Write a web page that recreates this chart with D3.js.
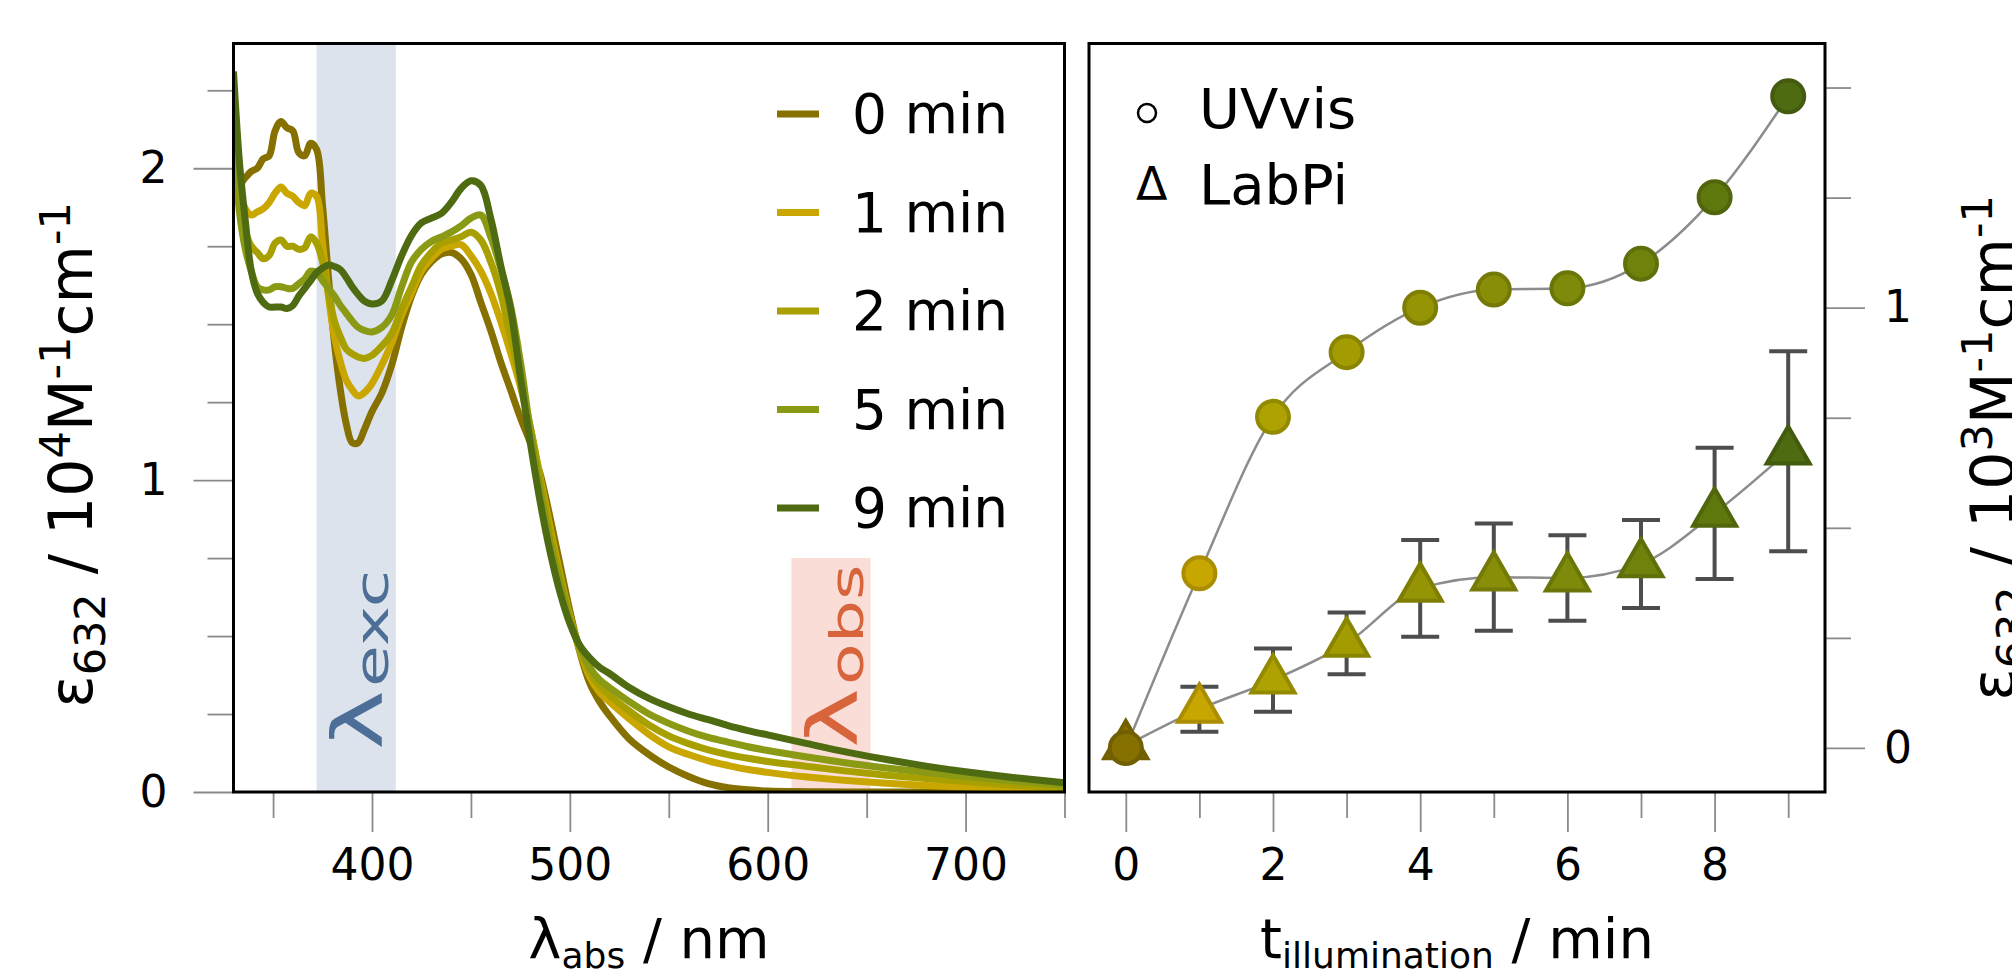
<!DOCTYPE html>
<html>
<head>
<meta charset="utf-8">
<script src="https://cdn.jsdelivr.net/npm/d3@7"></script>
<style>
    html, body { margin: 0; padding: 0; background: #fff; overflow: hidden; }
    svg { display: block; font-family: "DejaVu Sans", sans-serif; }
</style>
</head>
<body>
<svg id="chart" width="2012" height="970"></svg>
<script>
// spectra: wavelength grid (nm) and extinction (10^4 M^-1 cm^-1) per illumination time
const wavelengths = [330, 333, 336, 339, 342, 345, 348, 351, 354, 357, 360, 363, 366, 369, 372,
    375, 378, 381, 384, 387, 390, 393, 396,
    400, 405, 410, 415, 420, 425, 430, 435, 440, 445, 450, 455, 460, 465, 470, 475, 480, 485, 490, 495, 500, 505, 510, 515, 520,
    530, 540, 550, 560, 570, 580, 590, 600,
    620, 640, 660, 680, 700, 725, 750];

const eps0min = [1.98, 1.95, 1.97, 1.99, 2.00, 2.03, 2.04, 2.12, 2.15, 2.13, 2.12, 2.05, 2.04, 2.08, 2.06,
    1.88, 1.65, 1.44, 1.29, 1.18, 1.12, 1.12, 1.16,
    1.22, 1.28, 1.37, 1.49, 1.59, 1.66, 1.70, 1.725, 1.73, 1.71, 1.66, 1.57, 1.48, 1.38, 1.29, 1.20, 1.12, 1.02, 0.88, 0.73, 0.58, 0.45, 0.35, 0.29, 0.245,
    0.17, 0.12, 0.08, 0.05, 0.027, 0.014, 0.007, 0.003,
    0.001, 0, 0, 0, 0, 0, 0];

const eps1min = [1.97, 1.92, 1.87, 1.85, 1.86, 1.87, 1.89, 1.92, 1.94, 1.92, 1.91, 1.89, 1.88, 1.92, 1.91,
    1.76, 1.59, 1.46, 1.38, 1.32, 1.29, 1.27, 1.28,
    1.31, 1.37, 1.44, 1.53, 1.60, 1.67, 1.71, 1.74, 1.75, 1.755, 1.72, 1.67, 1.60, 1.51, 1.41, 1.30, 1.17, 1.01, 0.85, 0.70, 0.565, 0.455, 0.37, 0.32, 0.29,
    0.235, 0.185, 0.145, 0.12, 0.10, 0.085, 0.072, 0.063,
    0.048, 0.037, 0.028, 0.021, 0.016, 0.011, 0.008];

const eps2min = [2.00, 1.90, 1.80, 1.75, 1.73, 1.71, 1.72, 1.76, 1.77, 1.75, 1.75, 1.74, 1.745, 1.78, 1.76,
    1.70, 1.60, 1.51, 1.46, 1.42, 1.405, 1.395, 1.39,
    1.40, 1.43, 1.47, 1.55, 1.62, 1.69, 1.73, 1.76, 1.77, 1.78, 1.795, 1.77, 1.70, 1.60, 1.46, 1.32, 1.17, 1.00, 0.83, 0.69, 0.56, 0.46, 0.385, 0.34, 0.31,
    0.26, 0.215, 0.18, 0.155, 0.135, 0.12, 0.108, 0.098,
    0.082, 0.067, 0.054, 0.043, 0.034, 0.022, 0.013];

const eps5min = [2.10, 1.86, 1.74, 1.67, 1.62, 1.61, 1.61, 1.62, 1.62, 1.615, 1.615, 1.63, 1.645, 1.67, 1.665,
    1.64, 1.615, 1.59, 1.56, 1.535, 1.51, 1.49, 1.48,
    1.475, 1.49, 1.53, 1.62, 1.70, 1.74, 1.765, 1.78, 1.795, 1.815, 1.84, 1.85, 1.78, 1.68, 1.56, 1.38, 1.16, 0.97, 0.80, 0.67, 0.55, 0.465, 0.40, 0.36, 0.335,
    0.29, 0.25, 0.22, 0.195, 0.175, 0.16, 0.145, 0.133,
    0.112, 0.093, 0.077, 0.063, 0.05, 0.035, 0.022];

const eps9min = [2.31, 2.02, 1.83, 1.67, 1.60, 1.57, 1.555, 1.555, 1.555, 1.55, 1.56, 1.59, 1.615, 1.64, 1.665,
    1.68, 1.69, 1.685, 1.675, 1.65, 1.62, 1.595, 1.575,
    1.565, 1.575, 1.64, 1.72, 1.785, 1.825, 1.84, 1.855, 1.89, 1.935, 1.96, 1.945, 1.84, 1.69, 1.55, 1.33, 1.12, 0.93, 0.77, 0.64, 0.54, 0.47, 0.43, 0.40, 0.38,
    0.335, 0.30, 0.273, 0.25, 0.232, 0.213, 0.197, 0.183,
    0.155, 0.128, 0.104, 0.083, 0.065, 0.046, 0.03];

const seriesLabels = ["0 min", "1 min", "2 min", "5 min", "9 min"];
const seriesColors = ["#857000", "#c9a600", "#a8a000", "#8a9a14", "#4f6b11"];
const seriesValues = [eps0min, eps1min, eps2min, eps5min, eps9min];

// shaded wavelength windows (nm)
const excBand = [372, 412];
const obsBand = [612, 652];
const obsBandTop = 0.75;

// kinetics at 632 nm (10^3 M^-1 cm^-1)
const tIllum = [0, 1, 2, 3, 4, 5, 6, 7, 8, 9];
const uvvis = [0.0, 0.397, 0.752, 0.899, 1.0, 1.041, 1.044, 1.10, 1.251, 1.48];
const labpi = [0.005, 0.088, 0.154, 0.2375, 0.3625, 0.388, 0.386, 0.418, 0.533, 0.674];
const labpiErr = [0, 0.051, 0.072, 0.070, 0.110, 0.122, 0.097, 0.100, 0.149, 0.227];
const timeColors = ["#857000", "#c8a600", "#ada200", "#a29c00", "#949404", "#888e08", "#7e8a0a", "#70820c", "#5f780e", "#4f6b11"];

// ticks
const xMajorL = [400, 500, 600, 700];
const xMinorL = [350, 450, 550, 650, 750];
const yMajorL = [0, 1, 2];
const yMinorL = [0.25, 0.5, 0.75, 1.25, 1.5, 1.75, 2.25];
const xMajorR = [0, 2, 4, 6, 8];
const xMinorR = [1, 3, 5, 7, 9];
const yMajorR = [0, 1];
const yMinorR = [0.25, 0.5, 0.75, 1.25, 1.5];

const FONT = "DejaVu Sans";
const svg = d3.select("#chart");

const left = { x0: 233.5, x1: 1064.5, y0: 43.5, y1: 792 };
const right = { x0: 1089, x1: 1825, y0: 43.5, y1: 792 };

const xL = d3.scaleLinear().domain([330, 750]).range([left.x0, left.x1]);
const yL = d3.scaleLinear().domain([0, 2.4]).range([left.y1, left.y0]);
const xR = d3.scaleLinear().domain([-0.5, 9.5]).range([right.x0, right.x1]);
const yR = d3.scaleLinear().domain([-0.1, 1.6]).range([right.y1, right.y0]);

function styleAxis(g) {
    g.attr("font-family", FONT).attr("font-size", 44);
    g.select(".domain").remove();
    g.selectAll(".tick line").attr("stroke", "#8a8a8a").attr("stroke-width", 1.8);
    g.selectAll(".tick text").attr("fill", "#000");
}

function addAxis(axis, tx, ty) {
    svg.append("g")
        .attr("transform", `translate(${tx},${ty})`)
        .call(axis)
        .call(styleAxis);
}

// ---------- left panel ----------
svg.append("defs").append("clipPath").attr("id", "clipL")
    .append("rect")
    .attr("x", left.x0).attr("y", left.y0)
    .attr("width", left.x1 - left.x0).attr("height", left.y1 - left.y0);

const plotL = svg.append("g").attr("clip-path", "url(#clipL)");

plotL.append("rect")
    .attr("x", xL(excBand[0]))
    .attr("y", left.y0)
    .attr("width", xL(excBand[1]) - xL(excBand[0]))
    .attr("height", left.y1 - left.y0)
    .attr("fill", "#dce3ec");

plotL.append("rect")
    .attr("x", xL(obsBand[0]))
    .attr("y", yL(obsBandTop))
    .attr("width", xL(obsBand[1]) - xL(obsBand[0]))
    .attr("height", yL(0) - yL(obsBandTop))
    .attr("fill", "#f9ddd6");

const spectrumLine = d3.line()
    .x(d => xL(d[0]))
    .y(d => yL(d[1]))
    .curve(d3.curveCatmullRom.alpha(0.5));

seriesValues.forEach((vals, i) => {
    plotL.append("path")
        .datum(wavelengths.map((w, j) => [w, vals[j]]))
        .attr("d", spectrumLine)
        .attr("fill", "none")
        .attr("stroke", seriesColors[i])
        .attr("stroke-width", 7)
        .attr("stroke-linejoin", "round");
});

// band labels (stretched along the text direction like the original)
function bandLabel(x, y, sub, color) {
    const t = svg.append("text")
        .attr("transform", `translate(${x},${y}) rotate(-90) scale(1.45,1)`)
        .attr("fill", color)
        .attr("font-family", FONT);
    t.append("tspan").attr("font-size", 70).text("λ");
    t.append("tspan").attr("font-size", 47).attr("dy", 6).attr("dx", 2).text(sub);
}
bandLabel(382, 750, "exc", "#4d6e96");
bandLabel(857, 748, "obs", "#d8643c");

// legend
const legend = svg.append("g").attr("font-family", FONT).attr("font-size", 55);
seriesLabels.forEach((lab, i) => {
    const ly = 114 + i * 98.5;
    legend.append("line")
        .attr("x1", 777).attr("x2", 819)
        .attr("y1", ly).attr("y2", ly)
        .attr("stroke", seriesColors[i])
        .attr("stroke-width", 7);
    legend.append("text")
        .attr("x", 852).attr("y", ly + 19)
        .attr("fill", "#000")
        .text(lab);
});

// axes
addAxis(d3.axisBottom(xL).tickValues(xMajorL).tickSize(40).tickPadding(17).tickFormat(d3.format("d")), 0, left.y1);
addAxis(d3.axisBottom(xL).tickValues(xMinorL).tickSize(26).tickFormat(""), 0, left.y1);
addAxis(d3.axisLeft(yL).tickValues(yMajorL).tickSize(40).tickPadding(26).tickFormat(d3.format("d")), left.x0, 0);
addAxis(d3.axisLeft(yL).tickValues(yMinorL).tickSize(26).tickFormat(""), left.x0, 0);

svg.append("rect")
    .attr("x", left.x0).attr("y", left.y0)
    .attr("width", left.x1 - left.x0).attr("height", left.y1 - left.y0)
    .attr("fill", "none").attr("stroke", "#000").attr("stroke-width", 3);

// ---------- right panel ----------
const plotR = svg.append("g");

const kinLine = d3.line()
    .x((d, i) => xR(tIllum[i]))
    .y(d => yR(d))
    .curve(d3.curveMonotoneX);

[uvvis, labpi].forEach(vals => {
    plotR.append("path")
        .datum(vals)
        .attr("d", kinLine)
        .attr("fill", "none")
        .attr("stroke", "#8c8c8c")
        .attr("stroke-width", 2.5);
});

// error bars
const errG = plotR.append("g").attr("stroke", "#4d4d4d").attr("stroke-width", 4);
tIllum.forEach((t, i) => {
    if (labpiErr[i] <= 0) return;
    const cx = xR(t);
    const yTop = yR(labpi[i] + labpiErr[i]);
    const yBot = yR(labpi[i] - labpiErr[i]);
    errG.append("line").attr("x1", cx).attr("x2", cx).attr("y1", yTop).attr("y2", yBot);
    errG.append("line").attr("x1", cx - 19).attr("x2", cx + 19).attr("y1", yTop).attr("y2", yTop);
    errG.append("line").attr("x1", cx - 19).attr("x2", cx + 19).attr("y1", yBot).attr("y2", yBot);
});

const tri = d3.symbol().type(d3.symbolTriangle).size(800);
plotR.selectAll(".tri")
    .data(tIllum)
    .enter()
    .append("path")
    .attr("class", "tri")
    .attr("d", tri)
    .attr("transform", (t, i) => `translate(${xR(t)},${yR(labpi[i])})`)
    .attr("fill", (t, i) => timeColors[i])
    .attr("stroke", (t, i) => d3.color(timeColors[i]).darker(0.45))
    .attr("stroke-width", 4)
    .attr("stroke-linejoin", "miter");

plotR.selectAll(".dot")
    .data(tIllum)
    .enter()
    .append("circle")
    .attr("class", "dot")
    .attr("cx", t => xR(t))
    .attr("cy", (t, i) => yR(uvvis[i]))
    .attr("r", 16)
    .attr("fill", (t, i) => timeColors[i])
    .attr("stroke", (t, i) => d3.color(timeColors[i]).darker(0.45))
    .attr("stroke-width", 4);

// legend
const legR = svg.append("g").attr("font-family", FONT).attr("fill", "#000");
legR.append("circle").attr("cx", 1147).attr("cy", 113).attr("r", 9)
    .attr("fill", "none").attr("stroke", "#000").attr("stroke-width", 2.5);
legR.append("text").attr("x", 1199).attr("y", 128).attr("font-size", 56).text("UVvis");
legR.append("text").attr("x", 1136).attr("y", 200).attr("font-size", 46).text("Δ");
legR.append("text").attr("x", 1199).attr("y", 204).attr("font-size", 56).text("LabPi");

addAxis(d3.axisBottom(xR).tickValues(xMajorR).tickSize(40).tickPadding(17).tickFormat(d3.format("d")), 0, right.y1);
addAxis(d3.axisBottom(xR).tickValues(xMinorR).tickSize(26).tickFormat(""), 0, right.y1);
addAxis(d3.axisRight(yR).tickValues(yMajorR).tickSize(40).tickPadding(19).tickFormat(d3.format("d")), right.x1, 0);
addAxis(d3.axisRight(yR).tickValues(yMinorR).tickSize(26).tickFormat(""), right.x1, 0);

svg.append("rect")
    .attr("x", right.x0).attr("y", right.y0)
    .attr("width", right.x1 - right.x0).attr("height", right.y1 - right.y0)
    .attr("fill", "none").attr("stroke", "#000").attr("stroke-width", 3);

// ---------- axis titles ----------
function subTitle(x, y, main, sub, rest) {
    const t = svg.append("text")
        .attr("x", x).attr("y", y)
        .attr("text-anchor", "middle")
        .attr("font-family", FONT)
        .attr("font-size", 56)
        .attr("fill", "#000");
    t.append("tspan").text(main);
    t.append("tspan").attr("font-size", 36).attr("dy", 10).text(sub);
    t.append("tspan").attr("dy", -10).text(rest);
}
subTitle((left.x0 + left.x1) / 2, 958, "λ", "abs", " / nm");
subTitle((right.x0 + right.x1) / 2, 958, "t", "illumination", " / min");

function epsTitle(x, y, power) {
    const t = svg.append("text")
        .attr("transform", `translate(${x},${y}) rotate(-90)`)
        .attr("text-anchor", "middle")
        .attr("font-family", FONT)
        .attr("font-size", 60)
        .attr("fill", "#000");
    t.append("tspan").text("ε");
    t.append("tspan").attr("font-size", 43).attr("dy", 13).text("632");
    t.append("tspan").attr("dy", -13).text(" / 10");
    t.append("tspan").attr("font-size", 43).attr("dy", -22).text(power);
    t.append("tspan").attr("dy", 22).text("M");
    t.append("tspan").attr("font-size", 43).attr("dy", -22).text("-1");
    t.append("tspan").attr("dy", 22).text("cm");
    t.append("tspan").attr("font-size", 43).attr("dy", -22).text("-1");
}
epsTitle(92, 455, "4");
epsTitle(2014, 448, "3");
</script>
</body>
</html>
